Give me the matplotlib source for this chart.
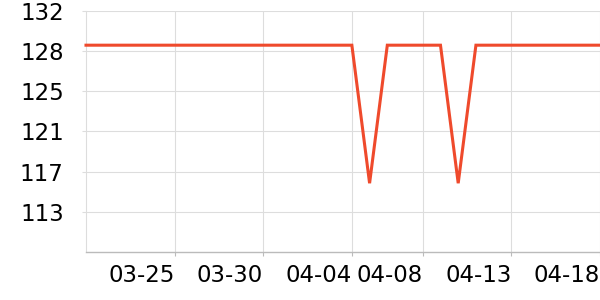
import matplotlib
matplotlib.use("Agg")
import matplotlib.pyplot as plt
from matplotlib.transforms import ScaledTranslation
import pandas as pd

# daily values 03-20 .. 04-18
days = pd.date_range("2023-03-20", "2023-04-18", freq="D")
values = [
    128.81, 128.81, 128.81, 128.81, 128.81, 128.81, 128.81, 128.81,
    128.81, 128.81, 128.81, 128.81, 128.81, 128.81, 128.81, 128.81,
    116.04,
    128.81, 128.81, 128.81, 128.81,
    116.04,
    128.81, 128.81, 128.81, 128.81, 128.81, 128.81, 128.81, 128.81,
]
xtick_dates = ["2023-03-25", "2023-03-30", "2023-04-04", "2023-04-08", "2023-04-13", "2023-04-18"]
xtick_labels = ["03-25", "03-30", "04-04", "04-08", "04-13", "04-18"]
ytick_vals = [113.4, 117.12, 120.84, 124.56, 128.28, 132.0]
ytick_labels = ["113", "117", "121", "125", "128", "132"]
ymin, ymax = 109.68, 132.0

fig = plt.figure(figsize=(6, 3), dpi=100)
ax = fig.add_axes([86 / 600, 48 / 300, 514 / 600, 241.3 / 300])

ax.plot(days, values, color="#ef4a2c", lw=2.2, solid_joinstyle="miter", zorder=3, clip_on=False)

ax.set_xlim(days[0], days[-1])
ax.set_ylim(ymin, ymax)
ax.set_xticks(pd.to_datetime(xtick_dates))
ax.set_xticklabels(xtick_labels, ha="right")
ax.set_yticks(ytick_vals)
ax.set_yticklabels(ytick_labels)

# nudge x labels a couple of pixels left of their tick
shift = ScaledTranslation(-2 / 100, 0, fig.dpi_scale_trans)
for lbl in ax.get_xticklabels():
    lbl.set_transform(lbl.get_transform() + shift)

ax.grid(True, color="#dddddd", lw=0.8)
ax.set_axisbelow(True)
for s in ["top", "right"]:
    ax.spines[s].set_visible(False)
ax.spines["left"].set_color("#dddddd")
ax.spines["left"].set_linewidth(0.8)
ax.spines["bottom"].set_color("#bbbbbb")
ax.spines["bottom"].set_linewidth(1.0)

ax.tick_params(axis="y", length=3, color="#dddddd", pad=13, labelsize=16.5)
ax.tick_params(axis="x", length=3, color="#bbbbbb", pad=6, labelsize=16.5)

fig.savefig("out.png", dpi=100)
